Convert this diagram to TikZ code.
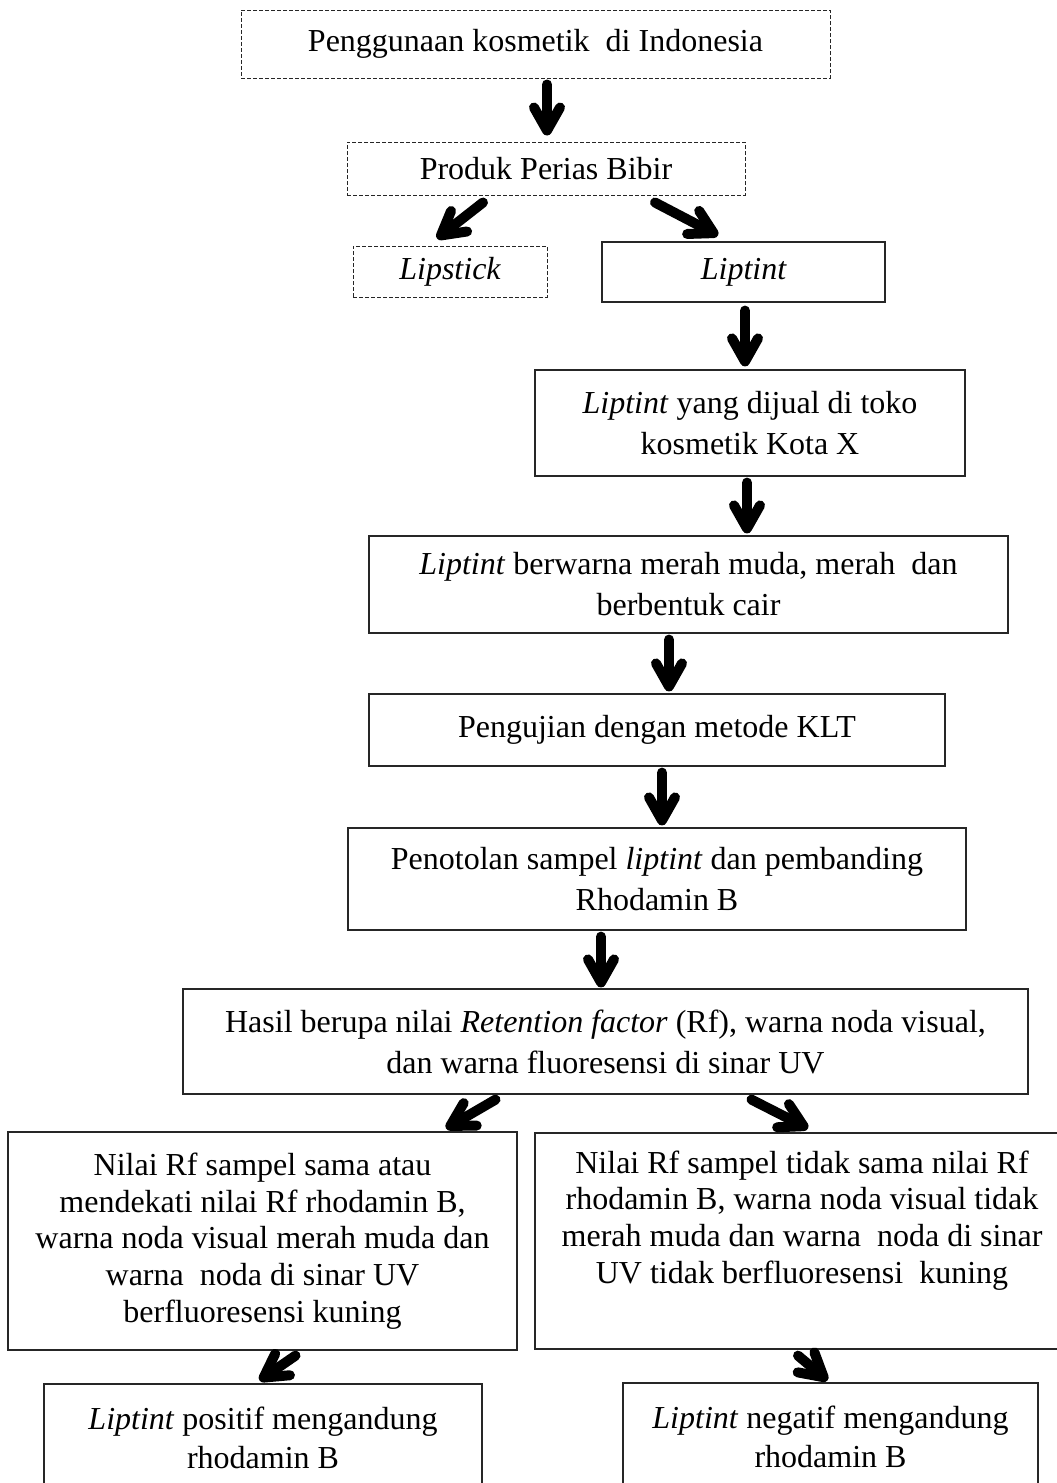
\documentclass[tikz,border=0pt]{standalone}
\usepackage{fontspec}
\setmainfont{Liberation Serif}
\usetikzlibrary{arrows.meta}
\begin{document}
\begin{tikzpicture}[x=1pt,y=-1pt,
  box/.style={draw=black!85,line width=1.2pt,rectangle,inner sep=0pt,align=center,
    font=\fontsize{32}{41}\selectfont},
  dbox/.style={box,dash pattern=on 4pt off 2pt,line width=1pt},
  arr/.style={line width=10pt,line cap=round,line join=round,
    -{Straight Barb[length=23pt,width=26pt,line cap=round,line join=round]}}]
\clip (0,0) rectangle (1057,1483);
\fill[white] (0,0) rectangle (1057,1483);

\node[dbox,minimum width=589pt,minimum height=68pt] (b1) at (535.5,44) {Penggunaan kosmetik\ \ di Indonesia};
\node[dbox,minimum width=398pt,minimum height=53pt] (b2) at (546,168.5) {Produk Perias Bibir};
\node[dbox,minimum width=194pt,minimum height=51pt] (b3) at (450,271.5) {\itshape Lipstick};
\node[box,minimum width=283pt,minimum height=60pt] (b4) at (743.5,272) {\itshape Liptint};
\node[box,minimum width=430pt,minimum height=106pt] (b9) at (750,423) {\textit{Liptint} yang dijual di toko\\kosmetik Kota X};
\node[box,minimum width=639pt,minimum height=97pt] (b11) at (688.5,584.5) {\textit{Liptint} berwarna merah muda, merah\ \ dan\\berbentuk cair};
\node[box,minimum width=576pt,minimum height=72pt] (b13) at (657,730) {Pengujian dengan metode KLT};
\node[box,minimum width=618pt,minimum height=102pt] (b15) at (657,879) {Penotolan sampel \textit{liptint} dan pembanding\\Rhodamin B};
\node[box,minimum width=845pt,minimum height=105pt] (b17) at (605.5,1041.5) {Hasil berupa nilai \textit{Retention factor} (Rf), warna noda visual,\\dan warna fluoresensi di sinar UV};
\node[box,minimum width=509pt,minimum height=218pt,font=\fontsize{32}{36.8}\selectfont] (b20) at (262.5,1241) {Nilai Rf sampel sama atau\\mendekati nilai Rf rhodamin B,\\warna noda visual merah muda dan\\warna\ \ noda di sinar UV\\berfluoresensi kuning};
\node[box,minimum width=534pt,minimum height=216pt,font=\fontsize{32}{36.8}\selectfont] (b21) at (802,1241) {Nilai Rf sampel tidak sama nilai Rf\\rhodamin B, warna noda visual tidak\\merah muda dan warna\ \ noda di sinar\\UV tidak berfluoresensi\ \ kuning\\\strut};
\node[box,minimum width=438pt,minimum height=108pt,font=\fontsize{32}{39}\selectfont] (b24) at (263,1438) {\textit{Liptint} positif mengandung\\rhodamin B};
\node[box,minimum width=415pt,minimum height=108pt,font=\fontsize{32}{39}\selectfont] (b25) at (830.5,1437) {\textit{Liptint} negatif mengandung\\rhodamin B};

\draw[arr] ([shift={(11.5,6)}]b1.south) -- ([shift={(1,-6)}]b2.north);
\draw[arr] ([shift={(-63,7)}]b2.south) -- ([shift={(-13,-7)}]b3.north);
\draw[arr] ([shift={(109,7)}]b2.south) -- ([shift={(-25.5,-6)}]b4.north);
\draw[arr] ([shift={(1.5,8)}]b4.south) -- ([shift={(-5,-3)}]b9.north);
\draw[arr] ([shift={(-3,6)}]b9.south) -- ([shift={(58.5,-2)}]b11.north);
\draw[arr] ([shift={(-19.5,6)}]b11.south) -- ([shift={(12,-2)}]b13.north);
\draw[arr] ([shift={(5,6)}]b13.south) -- ([shift={(5,-2)}]b15.north);
\draw[arr] ([shift={(-56,6)}]b15.south) -- ([shift={(-4.5,-1)}]b17.north);
\draw[arr] ([shift={(-110,5)}]b17.south) -- ([shift={(183.5,-3)}]b20.north);
\draw[arr] ([shift={(146,5)}]b17.south) -- ([shift={(6,-4)}]b21.north);
\draw[arr] ([shift={(33,5)}]b20.south) -- ([shift={(-3.5,-3)}]b24.north);
\draw[arr] ([shift={(-4,6)}]b21.south) -- ([shift={(-3,-2)}]b25.north);
\end{tikzpicture}
\end{document}
